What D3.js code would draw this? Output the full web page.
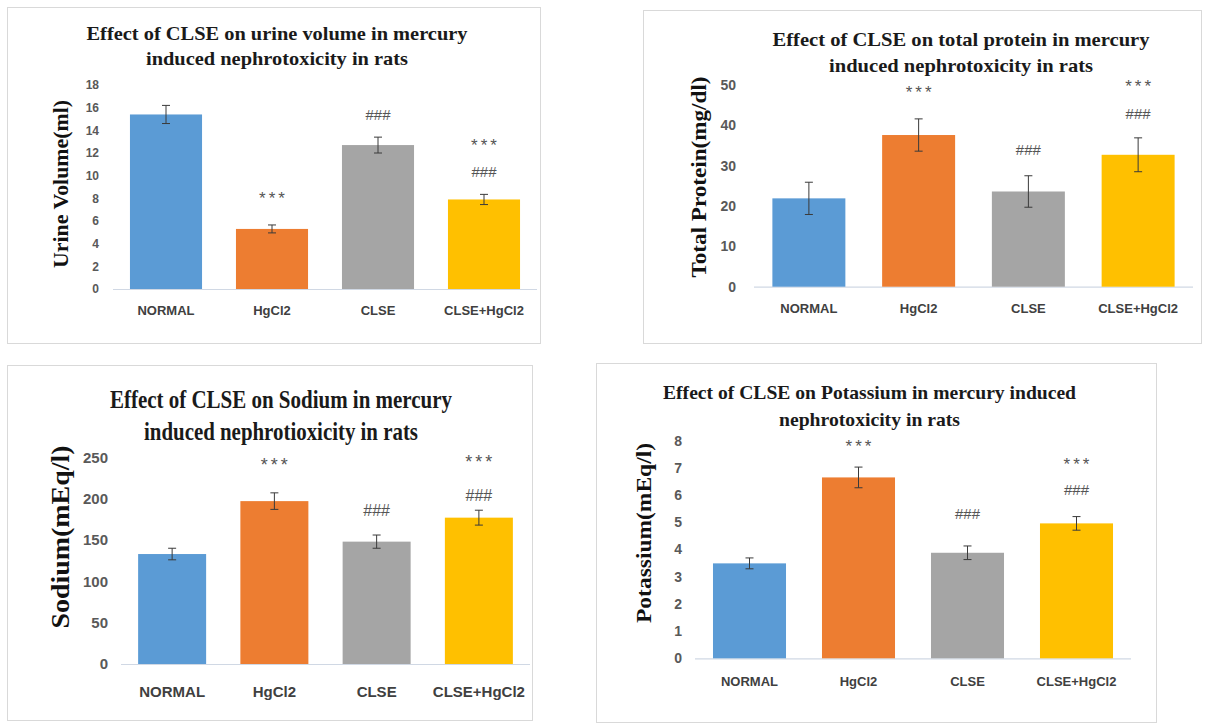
<!DOCTYPE html>
<html>
<head>
<meta charset="utf-8">
<script src="https://cdn.jsdelivr.net/npm/d3@7"></script>
<style>
  html, body { margin: 0; padding: 0; background: #ffffff; }
  svg { display: block; }
</style>
</head>
<body>
<svg id="chart" width="1205" height="723"></svg>
<script>
// ---------------- DATA ----------------
const categories = ["NORMAL", "HgCl2", "CLSE", "CLSE+HgCl2"];
const barColors = ["#5B9BD5", "#ED7D31", "#A5A5A5", "#FFC000"];

const urineMean = [15.4, 5.3, 12.7, 7.9];
const urineErr = [0.8, 0.35, 0.7, 0.45];
const urineTicks = [0, 2, 4, 6, 8, 10, 12, 14, 16, 18];
const urineStars = [null, 8.3, null, 13.0];
const urineHashes = [null, null, 15.4, 10.35];

const proteinMean = [21.9, 37.6, 23.6, 32.7];
const proteinErr = [4.0, 4.0, 3.9, 4.2];
const proteinTicks = [0, 10, 20, 30, 40, 50];
const proteinStars = [null, 49.2, null, 50.5];
const proteinHashes = [null, null, 33.9, 43.0];

const sodiumMean = [133, 197, 148, 177];
const sodiumErr = [7, 10, 8, 9];
const sodiumTicks = [0, 50, 100, 150, 200, 250];
const sodiumStars = [null, 245.8, null, 248.7];
const sodiumHashes = [null, null, 185.4, 204.4];

const potassiumMean = [3.49, 6.65, 3.88, 4.96];
const potassiumErr = [0.2, 0.38, 0.25, 0.25];
const potassiumTicks = [0, 1, 2, 3, 4, 5, 6, 7, 8];
const potassiumStars = [null, 7.93, null, 7.26];
const potassiumHashes = [null, null, 5.33, 6.19];

const urineTitle = ["Effect of CLSE on urine volume in mercury", "induced nephrotoxicity in rats"];
const proteinTitle = ["Effect of CLSE on total protein in mercury", "induced nephrotoxicity in rats"];
const sodiumTitle = ["Effect of CLSE on Sodium in mercury", "induced nephrotioxicity in rats"];
const potassiumTitle = ["Effect of CLSE on Potassium in mercury induced", "nephrotoxicity in rats"];

// ---------------- LAYOUT ----------------
const svg = d3.select("#chart");
svg.append("rect").attr("width", 1205).attr("height", 723).attr("fill", "#fff");

const sansNarrow = "'Liberation Sans Narrow', 'Arial Narrow', 'Liberation Sans', Arial, sans-serif";
const serif = "'Liberation Serif', 'Times New Roman', serif";

function drawPanel(cfg) {
  const g = svg.append("g");
  g.append("rect")
    .attr("x", cfg.box[0] + 0.5).attr("y", cfg.box[1] + 0.5)
    .attr("width", cfg.box[2] - cfg.box[0]).attr("height", cfg.box[3] - cfg.box[1])
    .attr("fill", "none").attr("stroke", "#d9d9d9").attr("stroke-width", 1);

  const x = d3.scaleBand().domain(categories).range(cfg.xRange)
    .paddingInner(cfg.pin).paddingOuter(cfg.pin / 2);
  const y = d3.scaleLinear().domain([cfg.ticks[0], cfg.ticks[cfg.ticks.length - 1]]).range(cfg.yRange);

  // y axis labels
  const ya = g.append("g")
    .attr("transform", `translate(${cfg.tickX},0)`)
    .call(d3.axisLeft(y).tickValues(cfg.ticks).tickSize(0).tickPadding(0));
  ya.select(".domain").remove();
  ya.selectAll("text")
    .attr("font-family", sansNarrow).attr("font-weight", "bold")
    .attr("font-size", cfg.tickSize).attr("fill", "#595959");

  // baseline
  g.append("line")
    .attr("x1", cfg.xRange[0]).attr("x2", cfg.xRange[1])
    .attr("y1", y(0) + 0.5).attr("y2", y(0) + 0.5)
    .attr("stroke", "#d0d8e4").attr("stroke-width", 1.2);

  const rows = categories.map((c, i) => ({
    c, v: cfg.mean[i], e: cfg.err[i], color: barColors[i],
    star: cfg.stars[i], hash: cfg.hashes[i]
  }));

  // bars
  g.selectAll(".bar").data(rows).join("rect")
    .attr("x", d => x(d.c)).attr("width", x.bandwidth())
    .attr("y", d => y(d.v)).attr("height", d => y(0) - y(d.v))
    .attr("fill", d => d.color);

  // error bars
  const eb = g.selectAll(".eb").data(rows).join("g");
  const cx = d => x(d.c) + x.bandwidth() / 2;
  eb.append("line")
    .attr("x1", cx).attr("x2", cx)
    .attr("y1", d => y(d.v + d.e)).attr("y2", d => y(d.v - d.e))
    .attr("stroke", "#3a3a3a").attr("stroke-width", 1);
  [1, -1].forEach(s => {
    eb.append("line")
      .attr("x1", d => cx(d) - 4).attr("x2", d => cx(d) + 4)
      .attr("y1", d => y(d.v + s * d.e)).attr("y2", d => y(d.v + s * d.e))
      .attr("stroke", "#3a3a3a").attr("stroke-width", 1);
  });

  // significance marks
  g.selectAll(".star").data(rows.filter(d => d.star != null)).join("text")
    .attr("x", d => cx(d) + 1.5).attr("y", d => y(d.star) + cfg.markSize * 0.62)
    .attr("text-anchor", "middle")
    .attr("font-family", "'Liberation Sans', Arial, sans-serif")
    .attr("font-size", cfg.markSize + 2).attr("letter-spacing", "3px")
    .attr("fill", "#555").text("***");
  g.selectAll(".hash").data(rows.filter(d => d.hash != null)).join("text")
    .attr("x", cx).attr("y", d => y(d.hash) + cfg.markSize * 0.36)
    .attr("text-anchor", "middle")
    .attr("font-family", sansNarrow)
    .attr("font-size", cfg.markSize)
    .attr("fill", "#555").text("###");

  // category labels
  const xa = g.append("g")
    .attr("transform", `translate(0,${cfg.catY})`)
    .call(d3.axisBottom(x).tickSize(0).tickPadding(0));
  xa.select(".domain").remove();
  xa.selectAll("text")
    .attr("dy", "0.35em")
    .attr("font-family", sansNarrow).attr("font-weight", "bold")
    .attr("font-size", cfg.catSize).attr("fill", "#404040");

  // title
  cfg.title.forEach((t, i) => {
    g.append("text")
      .attr("x", cfg.titleX).attr("y", cfg.titleY[i])
      .attr("text-anchor", "middle")
      .attr("font-family", serif).attr("font-weight", "bold")
      .attr("font-size", cfg.titleSize).attr("fill", "#1a1a1a")
      .attr("textLength", cfg.titleLen[i]).attr("lengthAdjust", "spacingAndGlyphs")
      .text(t);
  });

  // y label
  g.append("text")
    .attr("transform", `translate(${cfg.ylab[0]},${cfg.ylab[1]}) rotate(-90)`)
    .attr("text-anchor", "middle")
    .attr("font-family", serif).attr("font-weight", "bold")
    .attr("font-size", cfg.ylabSize).attr("fill", "#111")
    .attr("textLength", cfg.ylabLen).attr("lengthAdjust", "spacingAndGlyphs")
    .text(cfg.ylabText);
}

drawPanel({
  box: [7, 7, 540, 343],
  xRange: [113, 537], pin: 0.32,
  yRange: [289, 85], ticks: urineTicks, tickX: 99, tickSize: 12,
  mean: urineMean, err: urineErr, stars: urineStars, hashes: urineHashes,
  markSize: 15, catY: 310, catSize: 13,
  title: urineTitle, titleX: 277, titleY: [40, 65], titleSize: 19, titleLen: [381, 262],
  ylab: [68, 184], ylabSize: 21, ylabLen: 168, ylabText: "Urine Volume(ml)"
});

drawPanel({
  box: [643, 10, 1201, 343],
  xRange: [754, 1193], pin: 0.335,
  yRange: [286.7, 85], ticks: proteinTicks, tickX: 736, tickSize: 14,
  mean: proteinMean, err: proteinErr, stars: proteinStars, hashes: proteinHashes,
  markSize: 15, catY: 308, catSize: 13,
  title: proteinTitle, titleX: 961, titleY: [46, 72], titleSize: 19, titleLen: [377, 264],
  ylab: [706, 177], ylabSize: 21, ylabLen: 201, ylabText: "Total Protein(mg/dl)"
});

drawPanel({
  box: [7, 365, 532, 720],
  xRange: [121, 530], pin: 0.335,
  yRange: [664, 457.3], ticks: sodiumTicks, tickX: 108, tickSize: 15,
  mean: sodiumMean, err: sodiumErr, stars: sodiumStars, hashes: sodiumHashes,
  markSize: 16, catY: 691.7, catSize: 15,
  title: sodiumTitle, titleX: 281, titleY: [408, 440], titleSize: 25, titleLen: [342, 274],
  ylab: [69, 537], ylabSize: 26, ylabLen: 183, ylabText: "Sodium(mEq/l)"
});

drawPanel({
  box: [596, 363, 1156, 722],
  xRange: [695, 1131], pin: 0.33,
  yRange: [658.3, 440.7], ticks: potassiumTicks, tickX: 682, tickSize: 14,
  mean: potassiumMean, err: potassiumErr, stars: potassiumStars, hashes: potassiumHashes,
  markSize: 15, catY: 681.7, catSize: 13,
  title: potassiumTitle, titleX: 869.5, titleY: [399, 426], titleSize: 19, titleLen: [413, 181],
  ylab: [651, 533], ylabSize: 21, ylabLen: 180, ylabText: "Potassium(mEq/l)"
});
</script>
</body>
</html>
